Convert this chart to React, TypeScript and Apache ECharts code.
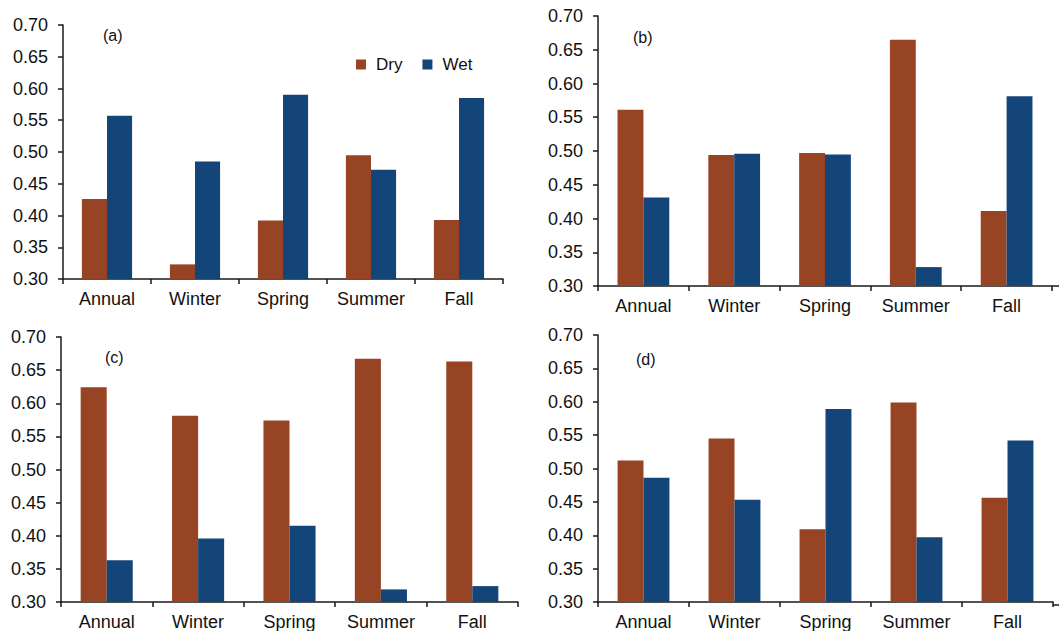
import React, { useEffect, useRef } from "react";
import * as echarts from "echarts";

const categories = ["Annual", "Winter", "Spring", "Summer", "Fall"];
const seriesNames = ["Dry", "Wet"];
const panelLabels = ["(a)", "(b)", "(c)", "(d)"];

const dryA = [0.426, 0.323, 0.392, 0.495, 0.393];
const wetA = [0.557, 0.485, 0.59, 0.472, 0.585];
const dryB = [0.561, 0.494, 0.497, 0.665, 0.411];
const wetB = [0.431, 0.496, 0.495, 0.328, 0.581];
const dryC = [0.624, 0.581, 0.574, 0.667, 0.663];
const wetC = [0.363, 0.396, 0.415, 0.319, 0.324];
const dryD = [0.512, 0.545, 0.409, 0.599, 0.456];
const wetD = [0.486, 0.453, 0.589, 0.397, 0.542];

const yMin = 0.3;
const yMax = 0.7;
const yStep = 0.05;

const FONT = '"Liberation Sans", Arial, sans-serif';
const DRY_COLOR = "#964423";
const WET_COLOR = "#144578";
const AXIS_COLOR = "#1a1a1a";

const grids = [
  { left: 63, top: 25, width: 440, height: 254 },
  { left: 598, top: 16, width: 454, height: 270 },
  { left: 61, top: 337, width: 457, height: 270 },
  { left: 598, top: 335, width: 455, height: 270 },
];

const labelPos = [
  { x: 103, y: 36 },
  { x: 633, y: 38 },
  { x: 105, y: 358 },
  { x: 636, y: 360 },
];

const panelData = [
  [dryA, wetA],
  [dryB, wetB],
  [dryC, wetC],
  [dryD, wetD],
];

export default function App() {
  const ref = useRef<HTMLDivElement>(null);

  useEffect(() => {
    if (!ref.current) return;
    const chart = echarts.init(ref.current, null, { renderer: "svg" });

    const xAxis = grids.map((_, i) => ({
      type: "category",
      gridIndex: i,
      data: categories,
      axisLine: { lineStyle: { color: AXIS_COLOR, width: 1.5 } },
      axisTick: { show: true, length: 5, lineStyle: { color: AXIS_COLOR, width: 1.5 } },
      axisLabel: {
        color: "#111",
        fontSize: 18,
        fontFamily: FONT,
        margin: 11,
        interval: 0,
        hideOverlap: false,
      },
    }));

    const yAxis = grids.map((_, i) => ({
      type: "value",
      gridIndex: i,
      min: yMin,
      max: yMax,
      interval: yStep,
      axisLine: { show: true, lineStyle: { color: AXIS_COLOR, width: 1.5 } },
      axisTick: { show: true, length: 5, lineStyle: { color: AXIS_COLOR, width: 1.5 } },
      splitLine: { show: false },
      axisLabel: {
        color: "#111",
        fontSize: 18,
        fontFamily: FONT,
        margin: 15,
        formatter: (v: number) => v.toFixed(2),
      },
    }));

    const series: any[] = [];
    panelData.forEach((pair, i) => {
      pair.forEach((vals, j) => {
        series.push({
          type: "bar",
          name: seriesNames[j],
          xAxisIndex: i,
          yAxisIndex: i,
          data: vals,
          barGap: "0%",
          barCategoryGap: "43%",
          itemStyle: { color: j === 0 ? DRY_COLOR : WET_COLOR },
        });
      });
    });

    const graphics: any[] = panelLabels.map((t, i) => ({
      type: "text",
      left: labelPos[i].x,
      top: labelPos[i].y - 9,
      style: { text: t, fontSize: 16, fontFamily: FONT, fill: "#111" },
    }));
    [1, 3].forEach((i) => {
      const g = grids[i];
      graphics.push({
        type: "line",
        shape: {
          x1: g.left + g.width,
          y1: g.top + g.height,
          x2: 1059,
          y2: g.top + g.height,
        },
        style: { stroke: AXIS_COLOR, lineWidth: 1.5 },
      });
    });

    chart.setOption({
      animation: false,
      backgroundColor: "#ffffff",
      grid: grids.map((g) => ({ ...g, containLabel: false })),
      legend: {
        data: seriesNames,
        left: 351,
        top: 51,
        icon: "rect",
        itemWidth: 10,
        itemHeight: 10,
        itemGap: 20,
        textStyle: { fontSize: 17, fontFamily: FONT, color: "#111", padding: [0, 0, 0, 5] },
      },
      xAxis,
      yAxis,
      series,
      graphic: graphics,
    });

    return () => chart.dispose();
  }, []);

  return (
    <div
      ref={ref}
      style={{ position: "fixed", left: 0, top: 0, width: 1059, height: 631, background: "#fff" }}
    />
  );
}
